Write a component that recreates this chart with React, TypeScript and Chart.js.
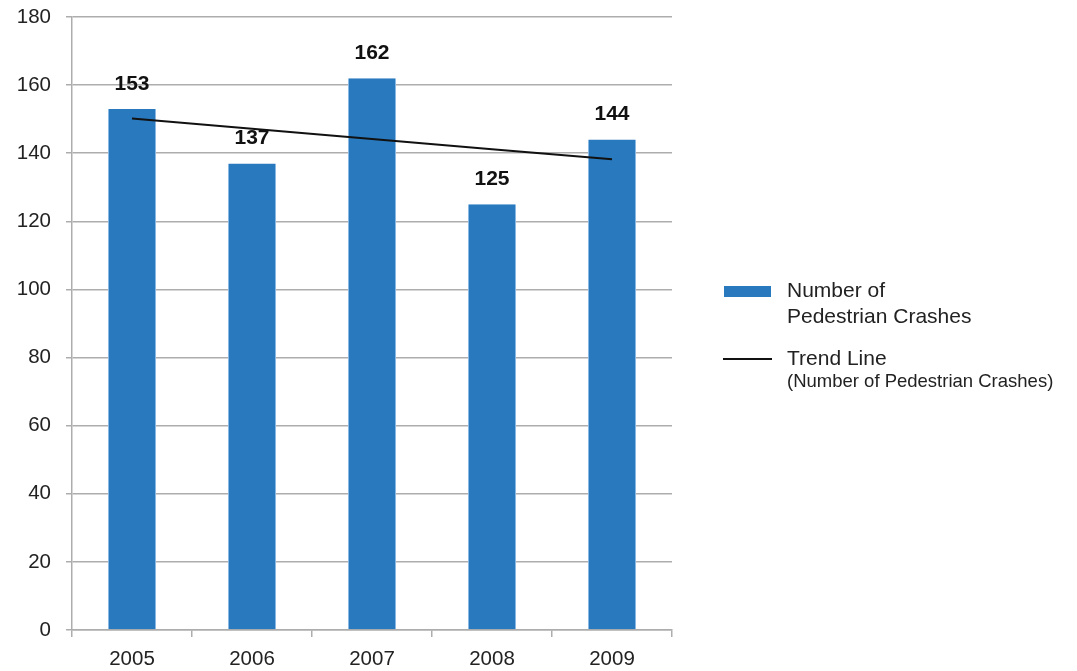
import React, { useEffect, useRef } from "react";
import { Chart, registerables } from "chart.js";

Chart.register(...registerables);

const years = ["2005", "2006", "2007", "2008", "2009"];
const crashCounts = [153, 137, 162, 125, 144];
const trendValues = [150.2, 147.2, 144.2, 141.2, 138.2];
const yTicks = [0, 20, 40, 60, 80, 100, 120, 140, 160, 180];

const barLabel = "Number of Pedestrian Crashes";
const trendLabel = "Trend Line";
const trendSubLabel = "(Number of Pedestrian Crashes)";

const FONT = "'Liberation Sans', Arial, sans-serif";
const TEXT = "#222222";
const GRID = "#adadad";
const BAR = "#2879be";

// Bold value labels above each bar
const valueLabels = {
  id: "valueLabels",
  afterDatasetsDraw(chart: any) {
    const ctx = chart.ctx;
    const meta = chart.getDatasetMeta(0);
    const data = chart.data.datasets[0].data as number[];
    ctx.save();
    ctx.font = `bold 21px ${FONT}`;
    ctx.fillStyle = "#111111";
    ctx.textAlign = "center";
    ctx.textBaseline = "middle";
    meta.data.forEach((bar: any, i: number) => {
      ctx.fillText(String(data[i]), bar.x, bar.y - 25);
    });
    ctx.restore();
  },
};

// Legend on the right side
const sideLegend = {
  id: "sideLegend",
  afterDraw(chart: any) {
    const ctx = chart.ctx;
    ctx.save();
    ctx.fillStyle = BAR;
    ctx.fillRect(724, 286, 47, 11);
    ctx.strokeStyle = "#111111";
    ctx.lineWidth = 2;
    ctx.beginPath();
    ctx.moveTo(723, 359);
    ctx.lineTo(772, 359);
    ctx.stroke();
    ctx.fillStyle = TEXT;
    ctx.textAlign = "left";
    ctx.textBaseline = "middle";
    ctx.font = `21px ${FONT}`;
    ctx.fillText("Number of", 787, 291);
    ctx.fillText("Pedestrian Crashes", 787, 317);
    ctx.fillText(trendLabel, 787, 359);
    ctx.font = `18.5px ${FONT}`;
    ctx.fillText(trendSubLabel, 787, 382);
    ctx.restore();
  },
};

export default function App() {
  const canvasRef = useRef<HTMLCanvasElement | null>(null);

  useEffect(() => {
    if (!canvasRef.current) return;
    const chart = new Chart(canvasRef.current, {
      type: "bar",
      data: {
        labels: years,
        datasets: [
          {
            type: "bar",
            label: barLabel,
            data: crashCounts,
            backgroundColor: BAR,
            borderColor: "#8ab8e2",
            borderWidth: { left: 1, right: 1, top: 0, bottom: 0 },
            borderSkipped: false,
            barPercentage: 0.4,
            categoryPercentage: 1,
            order: 2,
          },
          {
            type: "line",
            label: trendLabel,
            data: trendValues,
            borderColor: "#111111",
            borderWidth: 2,
            pointRadius: 0,
            fill: false,
            tension: 0,
            order: 1,
          },
        ],
      },
      options: {
        animation: false,
        responsive: false,
        layout: { padding: { left: 0, right: 405, top: 17, bottom: 0 } },
        plugins: {
          legend: { display: false },
          tooltip: { enabled: false },
        },
        scales: {
          x: {
            offset: true,
            grid: {
              offset: true,
              drawOnChartArea: false,
              drawTicks: true,
              tickLength: 7,
              color: GRID,
              lineWidth: 1.5,
            },
            border: { color: GRID, width: 1.5 },
            ticks: {
              color: TEXT,
              font: { family: FONT, size: 20.5 },
              padding: 10,
            },
            afterFit(scale: any) {
              scale.height = 41;
              scale.paddingLeft = 0;
              scale.paddingRight = 0;
            },
          },
          y: {
            min: 0,
            max: 180,
            afterBuildTicks(scale: any) {
              scale.ticks = yTicks.map((v) => ({ value: v }));
            },
            grid: {
              color: GRID,
              lineWidth: 1.5,
              tickLength: 6,
            },
            border: { color: GRID, width: 1.5 },
            ticks: {
              color: TEXT,
              font: { family: FONT, size: 20.5 },
              padding: 15,
            },
            afterFit(scale: any) {
              scale.width = 72;
              scale.paddingTop = 0;
              scale.paddingBottom = 0;
            },
          },
        },
      },
      plugins: [valueLabels, sideLegend],
    });
    return () => chart.destroy();
  }, []);

  return (
    <div
      style={{
        position: "fixed",
        left: 0,
        top: 0,
        width: 1077,
        height: 671,
        background: "#ffffff",
      }}
    >
      <canvas ref={canvasRef} width={1077} height={671} />
    </div>
  );
}
